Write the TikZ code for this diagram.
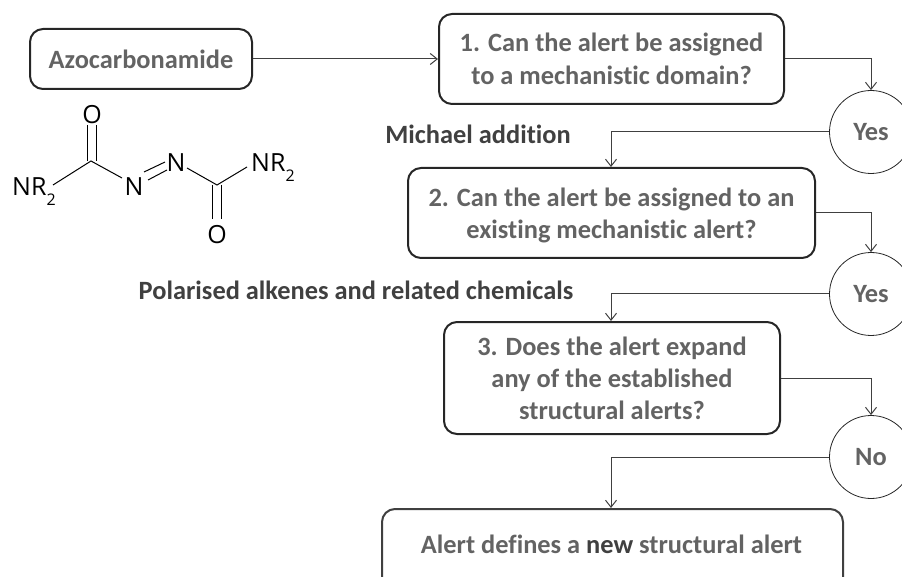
\documentclass[tikz,border=0pt]{standalone}
\usepackage{fontspec}
\setmainfont{Carlito}[Ligatures=NoCommon]
\newfontfamily\chemfont{Open Sans}
\usetikzlibrary{arrows.meta}
\definecolor{txt}{HTML}{636363}
\definecolor{lbl}{HTML}{404040}
\definecolor{edge}{HTML}{262626}
\definecolor{wire}{HTML}{404040}
\newcommand{\NRtwo}{NR\raisebox{-10pt}{\fontsize{16}{16}\selectfont 2}}
\tikzset{
  x=1pt,y=-1pt,
  flowbox/.style={draw=edge,line width=2pt,rounded corners=13pt,inner sep=0pt,anchor=north west,font=\fontsize{26.4}{32.5}\selectfont\bfseries,text=txt,align=center},
  answer/.style={circle,draw=edge,line width=0.8pt,fill=white,minimum size=83pt,inner sep=0pt,font=\fontsize{26.4}{30}\selectfont\bfseries,text=txt},
  plainlabel/.style={font=\fontsize{26.4}{30}\selectfont\bfseries,text=lbl,inner sep=0pt,anchor=base},
  conn/.style={draw=wire,line width=1pt,-{Straight Barb[length=7pt,width=11pt,line width=1pt]}},
  atom/.style={font=\chemfont\fontsize{25}{28}\selectfont,text=black,inner sep=0pt},
  bond/.style={draw=black,line width=1pt}
}
\begin{document}
\begin{tikzpicture}
\useasboundingbox (0,0) rectangle (902,577);
\clip (0,0) rectangle (902,577);
\node[flowbox,minimum width=222pt,minimum height=60pt] (azo) at (29,28) {Azocarbonamide};
\node[flowbox,minimum width=345pt,minimum height=90pt] (q1) at (438,13) {1. Can the alert be assigned\\to a mechanistic domain?};
\node[flowbox,minimum width=407pt,minimum height=90pt] (q2) at (407,167) {\rule{0pt}{23pt}2. Can the alert be assigned to an\\existing mechanistic alert?};
\node[flowbox,minimum width=336pt,minimum height=112pt,font=\fontsize{26.4}{32}\selectfont\bfseries] (q3) at (443,321) {3. Does the alert expand\\any of the established\\structural alerts?};
\node[flowbox,minimum width=461pt,minimum height=90pt,draw=wire] (q4) at (381,508) {};
\node[plainlabel,text=txt] (q4t) at (611.5,553) {Alert defines a \textcolor{lbl}{new} structural alert};
\node[answer] (y1) at (871,132) {Yes};
\node[answer] (y2) at (871,294) {Yes};
\node[answer] (n1) at (871,457) {No};
\node[plainlabel] (m1) at (478,144) {Michael addition};
\node[plainlabel] (m2) at (356,299) {Polarised alkenes and related chemicals};
\coordinate (a1) at (611,132);
\coordinate (a2) at (611,294);
\coordinate (a3) at (611,457);
\draw[conn] (azo.east) -- (azo.east -| q1.west);
\draw[conn] (q1.east) -| (y1.north);
\draw[conn] (y1.west) -- (a1) -- (a1 |- q2.north);
\draw[conn] (q2.east) -| (y2.north);
\draw[conn] (y2.west) -- (a2) -- (a2 |- q3.north);
\draw[conn] (q3.east) -| (n1.north);
\draw[conn] (n1.west) -- (a3) -- (a3 |- q4.north);
% molecule
\node[atom] (o1) at (92,115) {O};
\coordinate (c1) at (91,161);
\node[atom,anchor=base west] (nr1) at (12,196) {\NRtwo};
\node[atom] (n1a) at (134,187) {N};
\node[atom] (n2a) at (176,163) {N};
\coordinate (c2) at (217,185);
\node[atom] (o2) at (217,235) {O};
\node[atom,anchor=base west] (nr2) at (251,172) {\NRtwo};
\draw[bond] (53,185) -- (c1) -- (122,178);
\draw[bond] (87,125) -- (87,161);
\draw[bond] (96,125) -- (96,161);
\draw[bond] (144,172) -- (165,162);
\draw[bond] (148,180) -- (167,170);
\draw[bond] (187,168) -- (c2) -- (247,167);
\draw[bond] (212.5,185) -- (212.5,219);
\draw[bond] (221,185) -- (221,219);
\end{tikzpicture}
\end{document}
